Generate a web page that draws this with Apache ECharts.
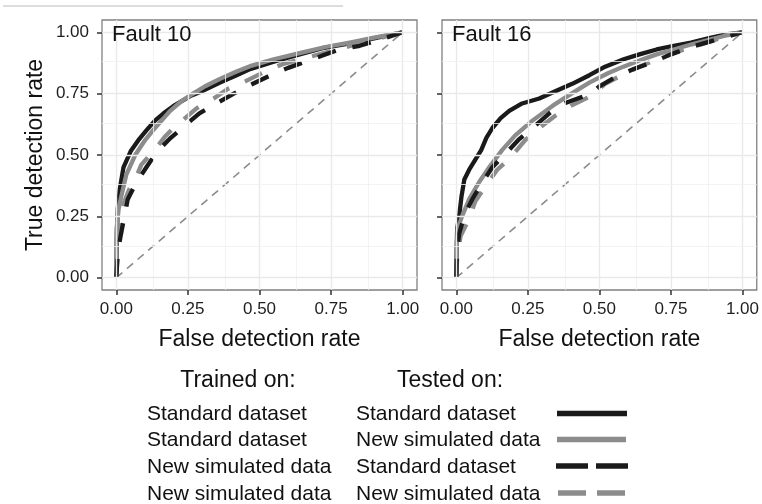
<!DOCTYPE html>
<html>
<head>
<meta charset="utf-8">
<script src="https://cdn.jsdelivr.net/npm/echarts@6/dist/echarts.min.js"></script>
<style>
  html, body { margin: 0; padding: 0; background: #fff; }
  #chart { width: 762px; height: 504px; }
</style>
</head>
<body>
<div id="chart"></div>
<script>
// ROC curves: [false detection rate, true detection rate]
// Fault 10
const f10_stdOnStd = [[0,0],[0.002,0.18],[0.005,0.28],[0.012,0.36],[0.025,0.45],[0.05,0.515],[0.08,0.565],[0.105,0.60],[0.135,0.64],[0.165,0.67],[0.2,0.70],[0.258,0.74],[0.3,0.76],[0.362,0.795],[0.42,0.825],[0.467,0.85],[0.55,0.88],[0.64,0.91],[0.72,0.935],[0.815,0.955],[0.9,0.975],[0.96,0.99],[1,1]];
const f10_stdOnNew = [[0,0],[0.001,0.2],[0.008,0.28],[0.017,0.33],[0.035,0.42],[0.066,0.5],[0.1,0.56],[0.128,0.60],[0.158,0.64],[0.188,0.68],[0.228,0.72],[0.268,0.75],[0.31,0.78],[0.362,0.81],[0.42,0.84],[0.467,0.862],[0.55,0.89],[0.64,0.915],[0.73,0.94],[0.815,0.958],[0.9,0.978],[1,1]];
const f10_newOnStd = [[0,0],[0.005,0.1],[0.015,0.17],[0.025,0.23],[0.04,0.32],[0.066,0.38],[0.105,0.45],[0.14,0.51],[0.19,0.57],[0.24,0.62],[0.29,0.67],[0.35,0.71],[0.41,0.75],[0.467,0.785],[0.53,0.82],[0.6,0.855],[0.66,0.88],[0.72,0.905],[0.78,0.93],[0.85,0.945],[0.92,0.97],[1,1]];
const f10_newOnNew = [[0,0],[0.004,0.1],[0.012,0.18],[0.025,0.3],[0.045,0.36],[0.066,0.4],[0.087,0.46],[0.11,0.49],[0.14,0.53],[0.17,0.575],[0.2,0.61],[0.23,0.64],[0.28,0.69],[0.34,0.73],[0.39,0.77],[0.45,0.80],[0.52,0.84],[0.58,0.87],[0.66,0.895],[0.74,0.92],[0.82,0.945],[0.9,0.97],[1,1]];
// Fault 16
const f16_stdOnStd = [[0,0],[0.001,0.1],[0.003,0.2],[0.01,0.25],[0.018,0.33],[0.028,0.40],[0.045,0.44],[0.066,0.48],[0.087,0.52],[0.105,0.57],[0.126,0.61],[0.155,0.65],[0.185,0.68],[0.23,0.71],[0.26,0.72],[0.29,0.73],[0.346,0.76],[0.405,0.79],[0.465,0.825],[0.52,0.86],[0.585,0.89],[0.64,0.91],[0.70,0.93],[0.76,0.945],[0.82,0.958],[0.88,0.975],[0.935,0.99],[1,1]];
const f16_stdOnNew = [[0,0],[0.001,0.12],[0.005,0.2],[0.02,0.25],[0.045,0.32],[0.08,0.39],[0.115,0.45],[0.16,0.52],[0.206,0.58],[0.266,0.64],[0.336,0.70],[0.405,0.752],[0.465,0.795],[0.53,0.833],[0.584,0.86],[0.64,0.885],[0.70,0.91],[0.76,0.93],[0.82,0.95],[0.88,0.968],[0.935,0.985],[1,1]];
const f16_newOnStd = [[0,0],[0.002,0.1],[0.01,0.18],[0.03,0.26],[0.056,0.32],[0.09,0.386],[0.126,0.45],[0.168,0.50],[0.22,0.565],[0.266,0.61],[0.325,0.67],[0.37,0.707],[0.47,0.75],[0.5,0.78],[0.56,0.82],[0.62,0.85],[0.69,0.88],[0.75,0.91],[0.82,0.94],[0.94,0.98],[1,1]];
const f16_newOnNew = [[0,0],[0.003,0.08],[0.015,0.17],[0.045,0.24],[0.066,0.31],[0.1,0.37],[0.143,0.44],[0.19,0.49],[0.24,0.56],[0.29,0.61],[0.346,0.66],[0.4,0.70],[0.47,0.74],[0.52,0.79],[0.57,0.82],[0.64,0.86],[0.70,0.89],[0.77,0.92],[0.84,0.945],[0.92,0.975],[1,1]];

// chance diagonal
const chanceLine = [[0,0],[1,1]];

// axis breaks
const tickValues = [0, 0.25, 0.5, 0.75, 1];
const minorValues = [0.125, 0.375, 0.625, 0.875];

const panelTitles = ['Fault 10', 'Fault 16'];
const legendTrained = ['Standard dataset', 'Standard dataset', 'New simulated data', 'New simulated data'];
const legendTested = ['Standard dataset', 'New simulated data', 'Standard dataset', 'New simulated data'];

const FONT = '"Liberation Sans", Arial, Helvetica, sans-serif';
const BLACK = '#1a1a1a';
const GREY = '#8c8c8c';
const DASH = [19, 17];

const panels = [
  { left: 102, curves: [f10_stdOnStd, f10_stdOnNew, f10_newOnNew, f10_newOnStd] },
  { left: 442, curves: [f16_stdOnStd, f16_stdOnNew, f16_newOnNew, f16_newOnStd] }
];
const curveStyles = [
  { name: 'Standard dataset / Standard dataset', color: BLACK, type: 'solid' },
  { name: 'Standard dataset / New simulated data', color: GREY, type: 'solid' },
  { name: 'New simulated data / New simulated data', color: GREY, type: DASH },
  { name: 'New simulated data / Standard dataset', color: BLACK, type: DASH }
];

const grids = [], xAxes = [], yAxes = [], series = [];

function gridLines(axisKey) {
  const out = [];
  minorValues.forEach(v => out.push({ [axisKey]: v, lineStyle: { color: '#f0f0f0', width: 0.8, type: 'solid' } }));
  tickValues.forEach(v => out.push({ [axisKey]: v, lineStyle: { color: '#e9e9e9', width: 1.4, type: 'solid' } }));
  return out;
}

panels.forEach((p, i) => {
  grids.push({
    left: p.left, top: 20, width: 315, height: 270,
    show: true, borderColor: '#808080', borderWidth: 1.3, backgroundColor: '#ffffff'
  });
  xAxes.push({
    gridIndex: i, type: 'value', min: -0.05, max: 1.05,
    splitLine: { show: false },
    axisLine: { show: false, onZero: false },
    axisTick: { show: true, customValues: tickValues, length: 5, lineStyle: { color: '#333', width: 1.5 } },
    axisLabel: { customValues: tickValues, formatter: v => v.toFixed(2), fontSize: 17, color: '#1e1e1e', margin: 11, fontFamily: FONT },
    name: 'False detection rate', nameLocation: 'middle', nameGap: 38,
    nameTextStyle: { fontSize: 23, color: '#111', fontFamily: FONT }
  });
  yAxes.push({
    gridIndex: i, type: 'value', min: -0.05, max: 1.05,
    splitLine: { show: false },
    axisLine: { show: false, onZero: false },
    axisTick: { show: true, customValues: tickValues, length: 5, lineStyle: { color: '#333', width: 1.5 } },
    axisLabel: { show: i === 0, customValues: tickValues, formatter: v => v.toFixed(2), fontSize: 17, color: '#1e1e1e', margin: 13, fontFamily: FONT },
    name: i === 0 ? 'True detection rate' : '', nameLocation: 'middle', nameGap: 55,
    nameTextStyle: { fontSize: 23, color: '#111', fontFamily: FONT }
  });
  // panel grid and chance diagonal
  series.push({
    type: 'line', xAxisIndex: i, yAxisIndex: i, data: chanceLine,
    showSymbol: false, silent: true, z: 1,
    lineStyle: { color: GREY, width: 1.6, type: [8, 6] },
    markLine: {
      silent: true, symbol: ['none', 'none'], label: { show: false }, animation: false,
      data: gridLines('xAxis').concat(gridLines('yAxis'))
    }
  });
  p.curves.forEach((c, k) => {
    const s = curveStyles[k];
    series.push({
      name: s.name, type: 'line', xAxisIndex: i, yAxisIndex: i, data: c,
      showSymbol: false, silent: true, z: 3,
      lineStyle: { color: s.color, width: 4.3, type: s.type, cap: 'butt', join: 'round' }
    });
  });
});

// panel strip titles, legend table and keys
const graphic = [
  { type: 'line', shape: { x1: 3, y1: 6, x2: 343, y2: 6 }, style: { stroke: '#dddddd', lineWidth: 2 } }
];
function txt(x, y, text, size, align) {
  return {
    type: 'text', z: 10,
    style: { x, y, text, fontSize: size, fontFamily: FONT, fill: '#111',
      textAlign: align, align: align, textVerticalAlign: 'middle', verticalAlign: 'middle' }
  };
}
graphic.push(txt(112, 35, panelTitles[0], 22, 'left'));
graphic.push(txt(452, 35, panelTitles[1], 22, 'left'));
graphic.push(txt(238, 381, 'Trained on:', 23, 'center'));
graphic.push(txt(450, 381, 'Tested on:', 23, 'center'));
const rowY = [414.5, 440.5, 467, 494];
const keyStyles = [
  { stroke: BLACK, dash: null, x1: 557, x2: 627 },
  { stroke: GREY, dash: null, x1: 557, x2: 626 },
  { stroke: BLACK, dash: [32, 8], x1: 556, x2: 628 },
  { stroke: GREY, dash: [28, 11], x1: 558, x2: 625 }
];
rowY.forEach((y, r) => {
  graphic.push(txt(147, y, legendTrained[r], 21, 'left'));
  graphic.push(txt(356, y, legendTested[r], 21, 'left'));
  const k = keyStyles[r];
  graphic.push({
    type: 'line', shape: { x1: k.x1, y1: y - 1, x2: k.x2, y2: y - 1 },
    style: { stroke: k.stroke, lineWidth: 5.5, lineDash: k.dash, lineCap: 'butt' }
  });
});

const chart = echarts.init(document.getElementById('chart'), null, { renderer: 'canvas' });
chart.setOption({
  animation: false,
  backgroundColor: '#ffffff',
  grid: grids,
  xAxis: xAxes,
  yAxis: yAxes,
  series: series,
  graphic: graphic
});
</script>
</body>
</html>
